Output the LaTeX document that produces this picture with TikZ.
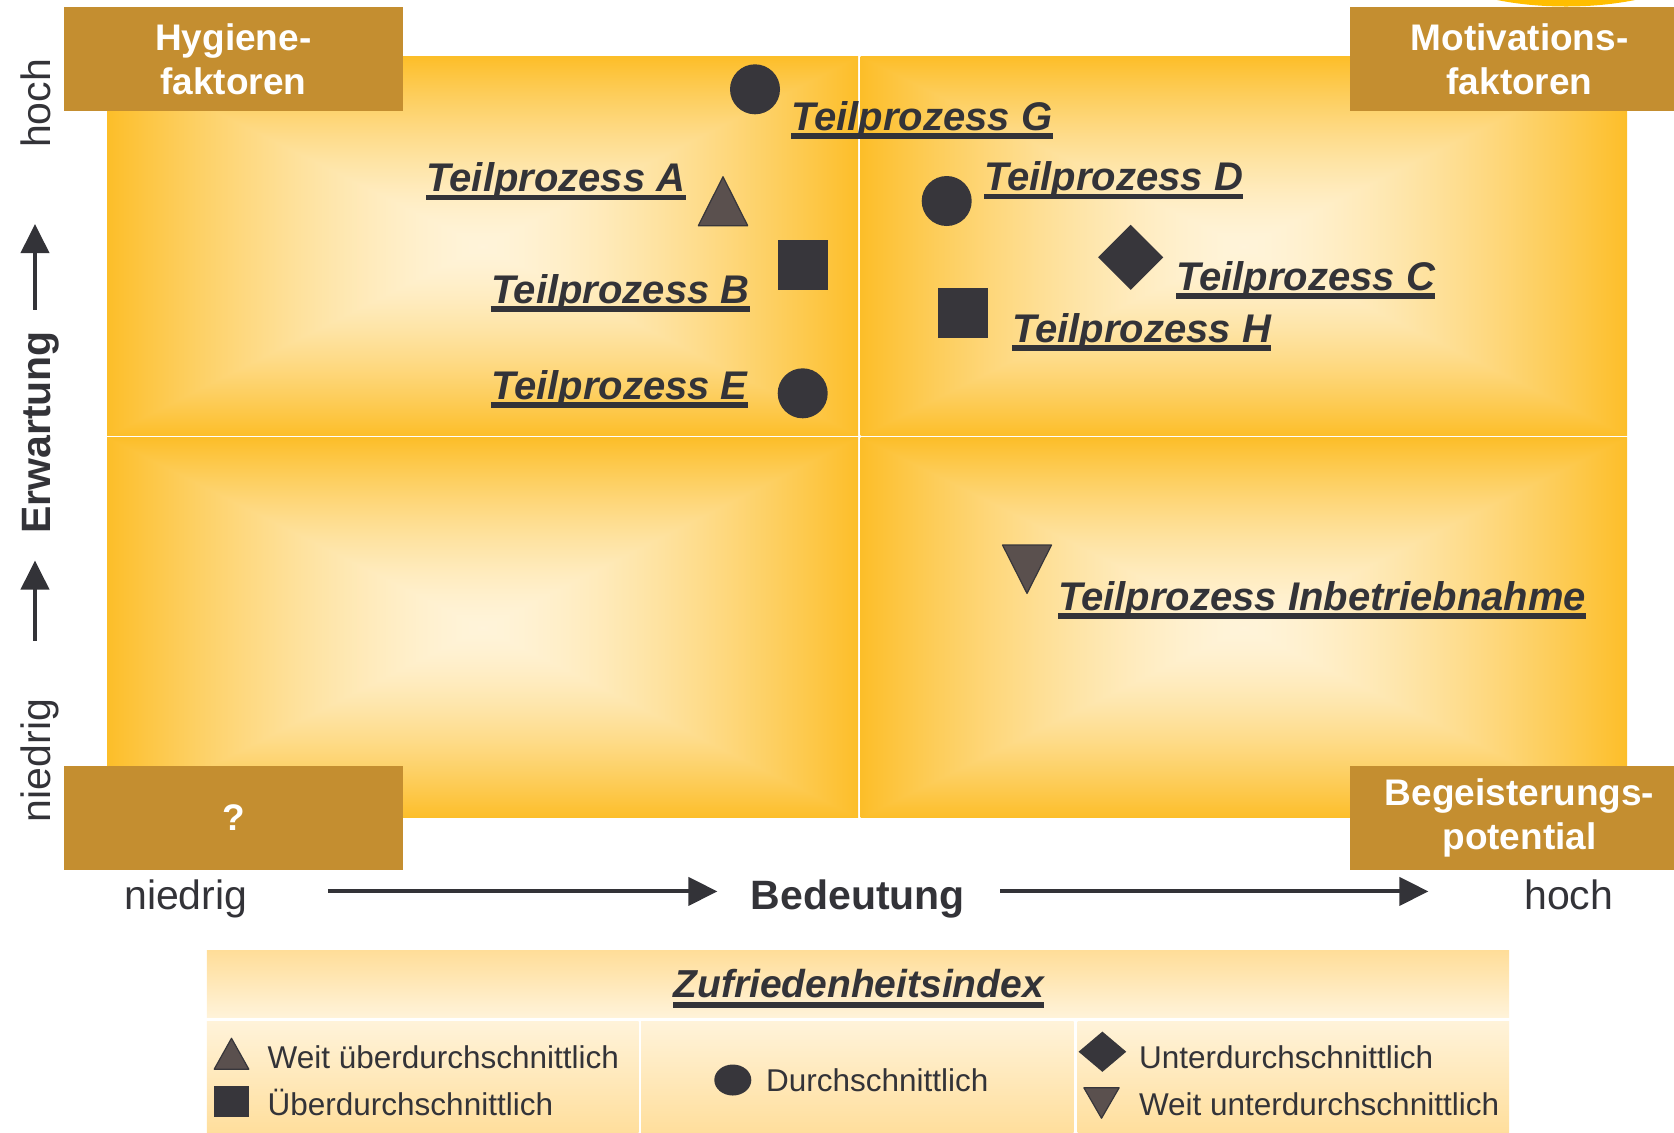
\documentclass[tikz,border=0pt]{standalone}
\usepackage{fontspec}
\setmainfont{Liberation Sans}
\usetikzlibrary{arrows.meta,shapes.geometric}

\definecolor{boxc}{RGB}{196,142,48}
\definecolor{markc}{RGB}{55,54,59}
\definecolor{trifill}{RGB}{90,80,78}
\definecolor{textc}{RGB}{51,51,56}
\definecolor{hellc}{RGB}{255,243,218}
\definecolor{legc}{RGB}{255,221,152}
\definecolor{sunc}{RGB}{255,190,0}

% light centre, orange rim, rectangular contours
\pgfdeclarefunctionalshading{quadglow}{\pgfpoint{-50bp}{-50bp}}{\pgfpoint{50bp}{50bp}}{}{%
  abs exch abs 2 copy lt {exch} if pop 25 div dup 1 gt {pop 1} if
  1.5 exp
  dup -0.01 mul 1 add exch
  dup -0.21 mul 0.955 add exch
  -0.69 mul 0.85 add
}

\begin{document}
\begin{tikzpicture}
  [x=0.5pt,y=-0.5pt,
   kasten/.style={fill=boxc,text=white,font=\fontsize{18.5}{22}\selectfont\bfseries,
     align=center,inner sep=0pt,minimum width=169.35pt,minimum height=51.85pt},
   proz/.style={font=\fontsize{20}{24}\selectfont\bfseries\itshape,text=textc,inner sep=0pt},
   ulin/.style={draw=textc,line width=2.6pt},
   achse/.style={font=\fontsize{20.5}{24}\selectfont,text=textc,inner sep=0pt},
   leg/.style={font=\fontsize{15.75}{19}\selectfont,text=textc,anchor=base west,inner sep=0pt},
   pfeil/.style={draw=textc,line width=2pt,-{Triangle[length=14.5pt,width=14pt]}},
   dot/.style={circle,fill=markc,inner sep=0pt,minimum size=25pt},
   sq/.style={rectangle,fill=markc,inner sep=0pt,minimum size=25pt},
   dia/.style={diamond,fill=markc,inner sep=0pt,minimum width=32.7pt,minimum height=32.7pt},
   trimark/.style={fill=trifill,draw=markc,line width=0.6pt,line join=round},
   uptri/.pic={\filldraw[trimark] (-24.7,24.5) -- (24.7,24.5) -- (0,-24.5) -- cycle;},
   downtri/.pic={\filldraw[trimark] (-24.5,-24.2) -- (24.5,-24.2) -- (0,24.2) -- cycle;}]
  \useasboundingbox (0,0) rectangle (1674,1132);

  % quadrants
  \foreach \xa/\xb/\ya/\yb in {107/858/56.7/435.5,860.5/1627/56.7/435.5,
                               107/858/437.5/817.7,860.5/1627/437.5/817.7}
    \shade[shading=quadglow] (\xa,\ya) rectangle (\xb,\yb);

  \fill[sunc] (1566,-55) ellipse [x radius=77pt,y radius=30.75pt];

  % corner boxes
  \node[kasten] (hyg) at (233.3,58.85) {Hygiene-\\faktoren};
  \node[kasten] (mot) at (1519.5,58.85) {Motivations-\\faktoren};
  \node[kasten] (frage) at (233.3,818) {?};
  \node[kasten] (beg) at (1519.5,818) {Begeisterungs-\\potential};

  % axes
  \node[achse,rotate=90,anchor=base] (ehoch) at (50.5,103.5) {hoch};
  \node[achse,rotate=90,anchor=base,font=\fontsize{20.5}{24}\selectfont\bfseries] (erw) at (50.5,432.5) {Erwartung};
  \node[achse,rotate=90,anchor=base] (enied) at (50.5,760.5) {niedrig};
  \coordinate (e1) at (35,309.6);
  \coordinate (e2) at (35,224);
  \coordinate (e3) at (35,640.6);
  \coordinate (e4) at (35,560.5);
  \draw[pfeil] (e1) -- (e2);
  \draw[pfeil] (e3) -- (e4);

  \node[achse,anchor=base] (bnied) at (185.8,909) {niedrig};
  \node[achse,anchor=base,font=\fontsize{20.5}{24}\selectfont\bfseries] (bed) at (857.8,909) {Bedeutung};
  \node[achse,anchor=base] (bhoch) at (1568.8,909) {hoch};
  \coordinate (b1) at (327.8,891.4);
  \coordinate (b2) at (717.4,891.4);
  \coordinate (b3) at (1000.3,891.4);
  \coordinate (b4) at (1428.4,891.4);
  \draw[pfeil] (b1) -- (b2);
  \draw[pfeil] (b3) -- (b4);

  % processes
  \node[dot] (pG) at (755,89.3) {};
  \node[dot] (pD) at (946.7,201) {};
  \node[dot] (pE) at (802.7,393.3) {};
  \node[sq] (pB) at (802.7,265.3) {};
  \node[sq] (pH) at (963,313.3) {};
  \node[dia] (pC) at (1130.7,257.3) {};
  \pic at (723,201.2) {uptri};
  \pic at (1027,569.2) {downtri};

  \node[proz,anchor=base west] (lG) at (791,130) {Teilprozess G};
  \node[proz,anchor=base east] (lA) at (685.7,191.3) {Teilprozess A};
  \node[proz,anchor=base east] (lB) at (750,303) {Teilprozess B};
  \node[proz,anchor=base east] (lE) at (748,399) {Teilprozess E};
  \node[proz,anchor=base west] (lD) at (984,190.7) {Teilprozess D};
  \node[proz,anchor=base west] (lC) at (1176,290) {Teilprozess C};
  \node[proz,anchor=base west] (lH) at (1012,342) {Teilprozess H};
  \node[proz,anchor=base west] (lI) at (1058,610) {Teilprozess Inbetriebnahme};
  \foreach \n in {lG,lA,lB,lE,lD,lC,lH,lI}
    \draw[ulin] ([yshift=-3pt]\n.base west) -- ([yshift=-3pt]\n.base east);

  % legend
  \shade[top color=legc,bottom color=hellc] (206.8,950) rectangle (1509,1017.7);
  \foreach \xa/\xb in {206.8/638.6,641/1073.7,1077.7/1509}
    \shade[top color=hellc,bottom color=legc] (\xa,1021) rectangle (\xb,1140);
  \node[proz,anchor=base,font=\fontsize{19.5}{23}\selectfont\bfseries\itshape] (zt) at (858.7,997.3) {Zufriedenheitsindex};
  \draw[ulin,line width=2.8pt] ([yshift=-3.8pt]zt.base west) -- ([yshift=-3.8pt]zt.base east);

  \pic[xscale=.7,yscale=.63] at (231.5,1053.7) {uptri};
  \node[sq,minimum width=17.2pt,minimum height=15.5pt] (kB) at (231.5,1101.2) {};
  \node[ellipse,fill=markc,inner sep=0pt,minimum width=18.5pt,minimum height=15.5pt] (kD) at (732.8,1080) {};
  \node[dia,minimum width=24pt,minimum height=20.3pt] (kU) at (1102.4,1051.7) {};
  \pic[xscale=.72,yscale=.63] at (1101.5,1103) {downtri};

  \node[leg] (tWU) at (267.3,1068.3) {Weit überdurchschnittlich};
  \node[leg] (tU) at (267.3,1115.7) {Überdurchschnittlich};
  \node[leg] (tD) at (765.7,1091.7) {Durchschnittlich};
  \node[leg] (tN) at (1138.6,1068.3) {Unterdurchschnittlich};
  \node[leg] (tWN) at (1138.6,1115.7) {Weit unterdurchschnittlich};
\end{tikzpicture}
\end{document}
